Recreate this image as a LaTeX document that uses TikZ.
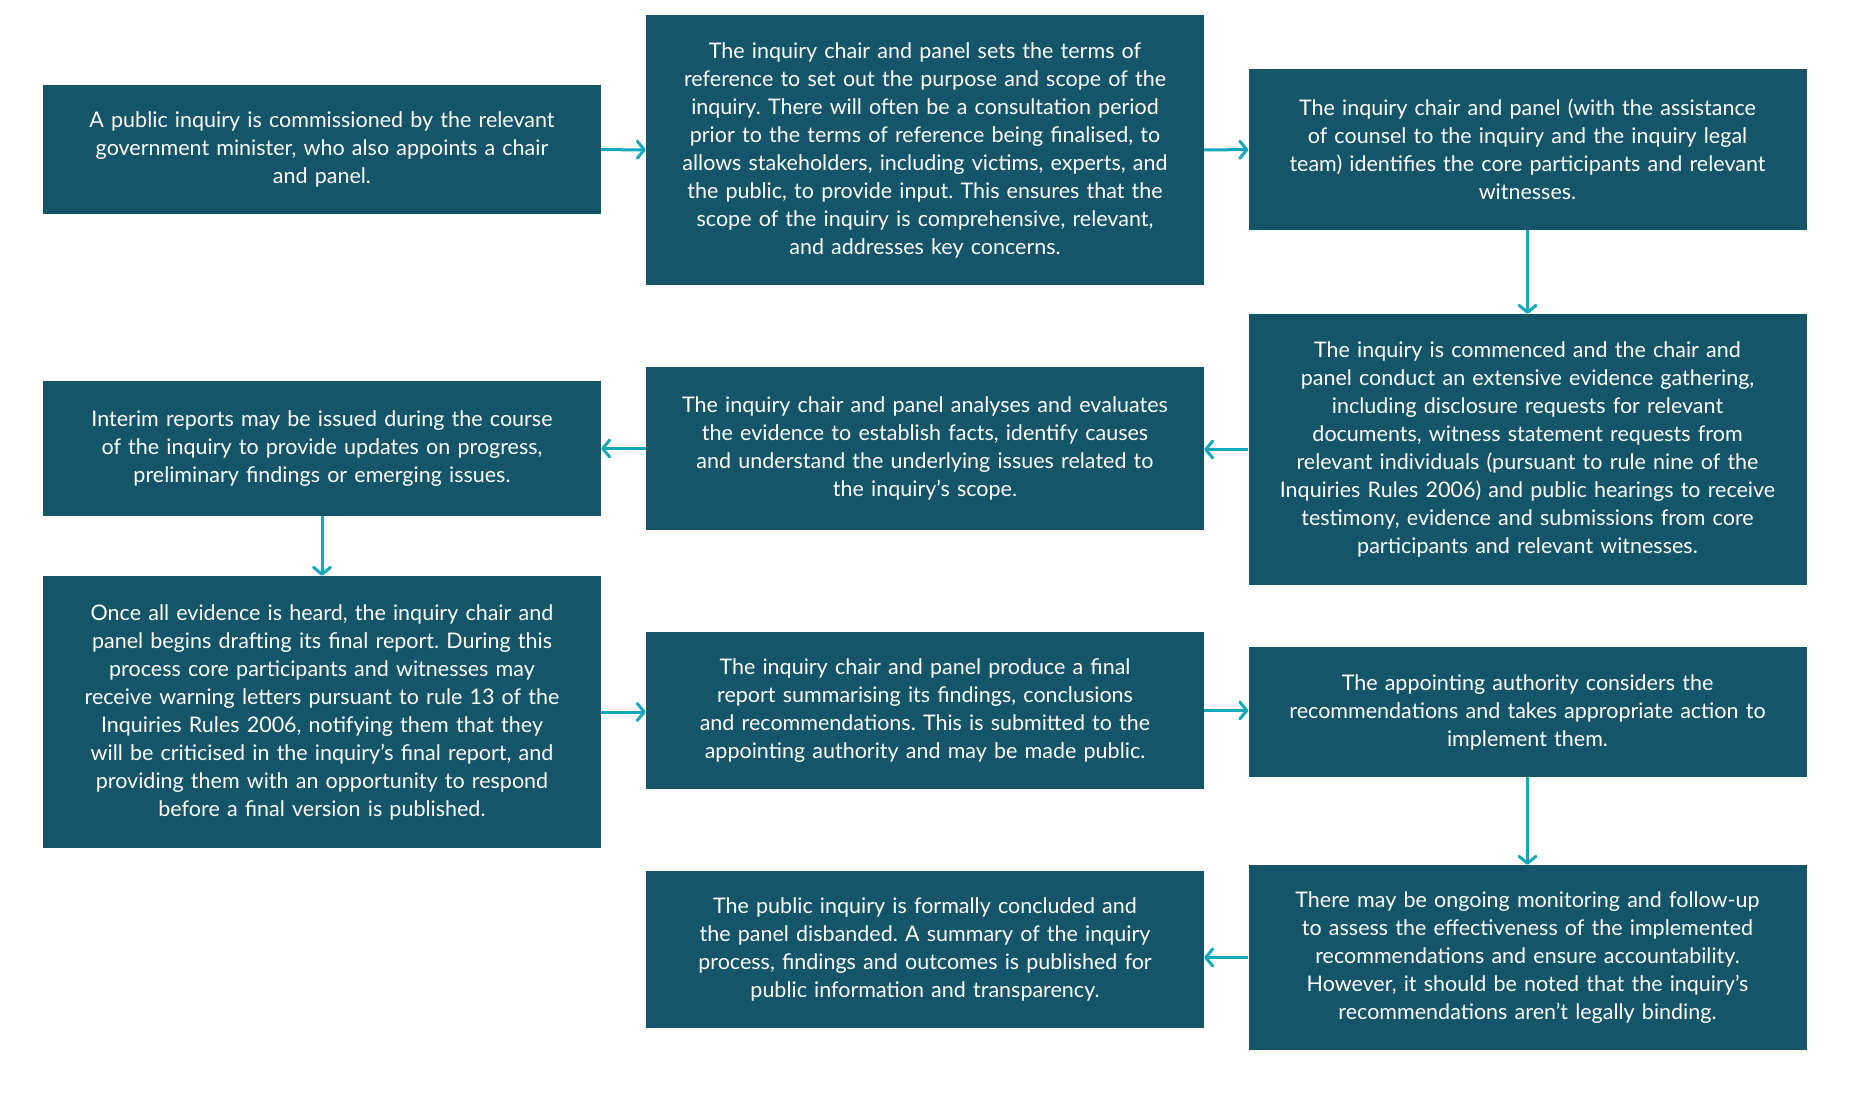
\documentclass[tikz,border=0pt]{standalone}
\usepackage{fontspec}
\setmainfont{Lato}
\usepackage{tikz}
\usetikzlibrary{positioning,arrows.meta}
\frenchspacing

\definecolor{boxteal}{RGB}{20,85,105}
\definecolor{arrowcyan}{RGB}{20,168,188}

\begin{document}
\begin{tikzpicture}[x=1pt,y=-1pt,
    stepbox/.style={rectangle, fill=boxteal, text=white, align=center,
        minimum width=558pt, text width=550pt, inner sep=0pt,
        font=\fontsize{21.5}{28}\selectfont},
    flow/.style={draw=arrowcyan, line width=3pt,
        -{Straight Barb[length=7pt,width=17pt,line cap=round,line join=round]}}]
                \useasboundingbox (0,0) rectangle (1850,1100);
                %Nodes
                \node[stepbox, minimum height=129pt] at (322,149.5)   (pub)     {A public inquiry is commissioned by the relevant\\government minister, who also appoints a chair\\and panel.};
                \node[stepbox, minimum height=270pt] at (925,150)     (terms)   {The inquiry chair and panel sets the terms of\\reference to set out the purpose and scope of the\\inquiry. There will often be a consultation period\\prior to the terms of reference being finalised, to\\allows stakeholders, including victims, experts, and\\the public, to provide input. This ensures that the\\scope of the inquiry is comprehensive, relevant,\\and addresses key concerns.};
                \node[stepbox, minimum height=161pt] at (1527.5,149.5)(core)    {The inquiry chair and panel (with the assistance\\of counsel to the inquiry and the inquiry legal\\team) identifies the core participants and relevant\\witnesses.};
                \node[stepbox, minimum height=271pt] at (1527.5,449.5)(evid)    {The inquiry is commenced and the chair and\\panel conduct an extensive evidence gathering,\\including disclosure requests for relevant\\documents, witness statement requests from\\relevant individuals (pursuant to rule nine of the\\Inquiries Rules 2006) and public hearings to receive\\testimony, evidence and submissions from core\\participants and relevant witnesses.};
                \node[stepbox, minimum height=163pt] at (925,448.5)   (anal)    {The inquiry chair and panel analyses and evaluates\\the evidence to establish facts, identify causes\\and understand the underlying issues related to\\the inquiry’s scope.};
                \node[stepbox, minimum height=135pt] at (322,448.5)   (interim) {Interim reports may be issued during the course\\of the inquiry to provide updates on progress,\\preliminary findings or emerging issues.};
                \node[stepbox, minimum height=272pt] at (322,712)     (draft)   {Once all evidence is heard, the inquiry chair and\\panel begins drafting its final report. During this\\process core participants and witnesses may\\receive warning letters pursuant to rule 13 of the\\Inquiries Rules 2006, notifying them that they\\will be criticised in the inquiry’s final report, and\\providing them with an opportunity to respond\\before a final version is published.};
                \node[stepbox, minimum height=157pt] at (925,710.5)   (final)   {The inquiry chair and panel produce a final\\report summarising its findings, conclusions\\and recommendations. This is submitted to the\\appointing authority and may be made public.};
                \node[stepbox, minimum height=130pt] at (1527.5,712)  (auth)    {The appointing authority considers the\\recommendations and takes appropriate action to\\implement them.};
                \node[stepbox, minimum height=185pt] at (1527.5,957.5)(monit)   {There may be ongoing monitoring and follow-up\\to assess the effectiveness of the implemented\\recommendations and ensure accountability.\\However, it should be noted that the inquiry’s\\recommendations aren’t legally binding.};
                \node[stepbox, minimum height=157pt] at (925,949.5)   (concl)   {The public inquiry is formally concluded and\\the panel disbanded. A summary of the inquiry\\process, findings and outcomes is published for\\public information and transparency.};

                %Lines
                \draw[flow] (pub) -- (terms);
                \draw[flow] (terms) -- (core);
                \draw[flow] (core) -- (evid);
                \draw[flow] (evid.west) -- (evid.west -| anal.east);
                \draw[flow] (anal) -- (interim);
                \draw[flow] (interim) -- (draft);
                \draw[flow] (draft.east) -- (draft.east -| final.west);
                \draw[flow] (final.east) -- (final.east -| auth.west);
                \draw[flow] (auth) -- (monit);
                \draw[flow] (monit.west) -- (monit.west -| concl.east);
            \end{tikzpicture}
\end{document}
